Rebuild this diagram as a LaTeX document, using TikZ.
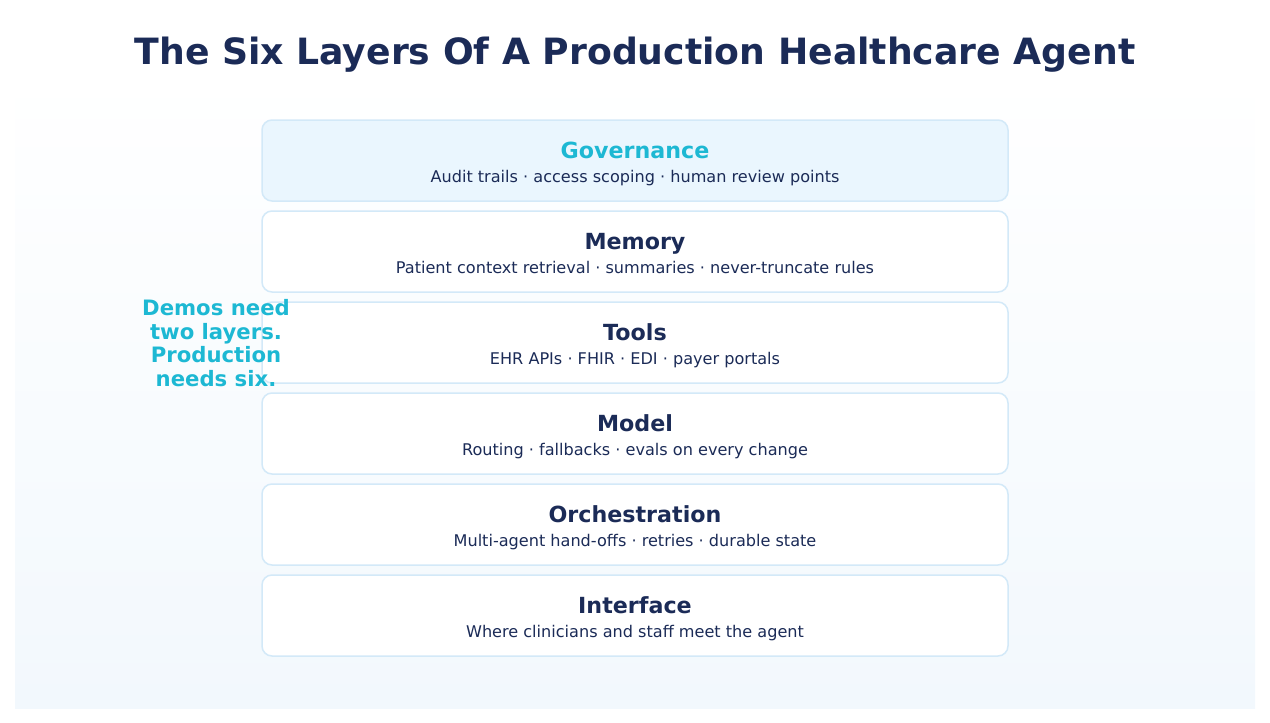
\documentclass[tikz,border=0pt]{standalone}
\usepackage{fontspec}
\setmainfont{DejaVu Sans}
\usetikzlibrary{positioning}

\definecolor{navy}{HTML}{1B2B57}
\definecolor{cyanish}{HTML}{1DB8D3}
\definecolor{boxline}{HTML}{D3E9F8}
\definecolor{govfill}{HTML}{EAF6FE}
\definecolor{panelbot}{HTML}{F2F8FD}

\newcommand{\layerhead}[1]{{\bfseries\fontsize{22.2}{24.5}\selectfont\rule{0pt}{24pt}#1}}
\newcommand{\layersub}[1]{\rule[-4.5pt]{0pt}{1pt}#1}

\begin{document}
\begin{tikzpicture}[x=1pt,y=-1pt,node distance=91pt,
	layer node/.style={draw=boxline,line width=1.5pt,rounded corners=10pt,fill=white,
		minimum width=746pt,minimum height=81pt,align=center,text=navy,inner sep=0pt,
		font=\fontsize{16.1}{24.5}\selectfont}]
	
	\useasboundingbox (0,0) rectangle (1270,723);
	\shade[top color=white,bottom color=panelbot] (15,73) rectangle (1255,708);
	
	\node[text=navy,font=\bfseries\fontsize{36.2}{42}\selectfont] (title) at (635,55) {The Six Layers Of A Production Healthcare Agent};
	
	\node[layer node,fill=govfill] (1) at (635,160.5) {\layerhead{\color{cyanish}Governance}\\\layersub{Audit trails · access scoping · human review points}};
	\node[layer node] (2) [below of=1] {\layerhead{Memory}\\\layersub{Patient context retrieval · summaries · never-truncate rules}};
	\node[layer node] (3) [below of=2] {\layerhead{Tools}\\\layersub{EHR APIs · FHIR · EDI · payer portals}};
	\node[layer node] (4) [below of=3] {\layerhead{Model}\\\layersub{Routing · fallbacks · evals on every change}};
	\node[layer node] (5) [below of=4] {\layerhead{Orchestration}\\\layersub{Multi-agent hand-offs · retries · durable state}};
	\node[layer node] (6) [below of=5] {\layerhead{Interface}\\\layersub{Where clinicians and staff meet the agent}};
	
	\node[text=cyanish,align=center,font=\bfseries\fontsize{21.2}{23.4}\selectfont] (note) at (216,343) {Demos need\\two layers.\\Production\\needs six.};
\end{tikzpicture}
\end{document}
